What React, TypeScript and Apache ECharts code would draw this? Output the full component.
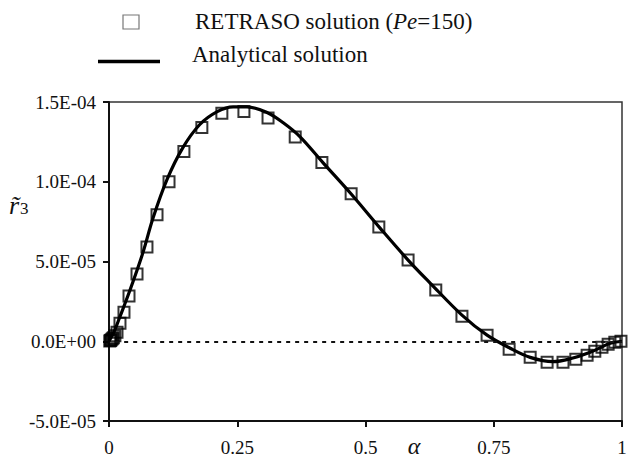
import React, { useEffect, useRef } from "react";
import * as echarts from "echarts";

// RETRASO numerical solution (markers)
const alphaMarkers = [
  0.0015, 0.003, 0.0045, 0.0065, 0.0085, 0.0115, 0.0156, 0.0214, 0.0292, 0.039,
  0.0546, 0.074, 0.0936, 0.117, 0.146, 0.181, 0.22, 0.263, 0.31, 0.363, 0.415,
  0.472, 0.526, 0.583, 0.637, 0.688, 0.737, 0.78, 0.821, 0.854, 0.885, 0.91,
  0.932, 0.947, 0.961, 0.973, 0.986, 0.998,
];
const r3Markers = [
  0.2e-6, 0.5e-6, 1.0e-6, 1.5e-6, 2.2e-6, 3.5e-6, 5.7e-6, 1.13e-5, 1.82e-5,
  2.83e-5, 4.21e-5, 5.91e-5, 7.93e-5, 1.0e-4, 1.19e-4, 1.34e-4, 1.43e-4, 1.44e-4,
  1.4e-4, 1.28e-4, 1.12e-4, 9.25e-5, 7.17e-5, 5.09e-5, 3.21e-5, 1.57e-5, 3.8e-6,
  -5.0e-6, -1.01e-5, -1.32e-5, -1.32e-5, -1.13e-5, -8.8e-6, -6.3e-6, -3.8e-6,
  -1.9e-6, -0.6e-6, 0,
];

// Analytical solution (curve)
const alphaCurve = [
  0, 0.01, 0.021, 0.041, 0.066, 0.086, 0.113, 0.144, 0.177, 0.211, 0.242, 0.269,
  0.308, 0.339, 0.372, 0.417, 0.47, 0.528, 0.583, 0.626, 0.688, 0.737, 0.782,
  0.821, 0.865, 0.899, 0.938, 0.977, 1.0,
];
const r3Curve = [
  0, 6e-6, 1.51e-5, 3.21e-5, 5.54e-5, 7.74e-5, 1.013e-4, 1.214e-4, 1.359e-4,
  1.44e-4, 1.47e-4, 1.47e-4, 1.434e-4, 1.371e-4, 1.283e-4, 1.12e-4, 9.31e-5,
  7.11e-5, 5.09e-5, 3.65e-5, 1.64e-5, 3.8e-6, -4.4e-6, -1.01e-5, -1.28e-5,
  -1.1e-5, -6.9e-6, -1.3e-6, 0,
];

const xTicks = [0, 0.25, 0.5, 0.75, 1];
const yMin = -5e-5;
const yMax = 1.5e-4;
const yStep = 5e-5;

const seriesNames = ["RETRASO solution (Pe=150)", "Analytical solution"];

const SERIF = "'Liberation Serif', 'Times New Roman', serif";

function fmtExp(v: number): string {
  if (Math.abs(v) < 1e-12) return "0.0E+00";
  let e = Math.floor(Math.log10(Math.abs(v)) + 1e-9);
  let s = (v / Math.pow(10, e)).toFixed(1);
  if (Math.abs(parseFloat(s)) >= 10) {
    e += 1;
    s = (v / Math.pow(10, e)).toFixed(1);
  }
  const sign = e < 0 ? "-" : "+";
  return `${s}E${sign}${String(Math.abs(e)).padStart(2, "0")}`;
}

export default function App() {
  const ref = useRef<HTMLDivElement>(null);

  useEffect(() => {
    if (!ref.current) return;
    const chart = echarts.init(ref.current, undefined, { renderer: "svg" });

    const markerData = alphaMarkers.map((a, i) => [a, r3Markers[i]]);
    const curveData = alphaCurve.map((a, i) => [a, r3Curve[i]]);

    chart.setOption({
      animation: false,
      backgroundColor: "#ffffff",
      grid: {
        left: 109,
        right: 7,
        top: 102,
        bottom: 38,
        containLabel: false,
        outerBoundsMode: "none",
        show: true,
        borderColor: "#333",
        borderWidth: 1.5,
      },
      xAxis: {
        type: "value",
        min: xTicks[0],
        max: xTicks[xTicks.length - 1],
        interval: xTicks[1] - xTicks[0],
        axisLine: { show: true, onZero: false, lineStyle: { color: "#111", width: 2 } },
        axisTick: { show: true, inside: false, length: 6, lineStyle: { color: "#111", width: 2 } },
        splitLine: { show: false },
        axisLabel: {
          color: "#111",
          fontFamily: SERIF,
          fontSize: 19,
          margin: 17,
        },
      },
      yAxis: {
        type: "value",
        min: yMin,
        max: yMax,
        interval: yStep,
        axisLine: { show: true, onZero: false, lineStyle: { color: "#111", width: 2 } },
        axisTick: { show: true, inside: false, length: 6, lineStyle: { color: "#111", width: 2 } },
        splitLine: { show: false },
        axisLabel: {
          color: "#111",
          fontFamily: SERIF,
          fontSize: 19,
          margin: 13,
          formatter: (v: number) => fmtExp(v),
        },
      },
      series: [
        {
          name: seriesNames[1],
          type: "line",
          data: curveData,
          smooth: 0.35,
          showSymbol: false,
          symbol: "none",
          lineStyle: { color: "#000", width: 3.2 },
          z: 2,
          markLine: {
            silent: true,
            symbol: ["none", "none"],
            label: { show: false },
            lineStyle: { color: "#111", type: [4, 5], width: 2 },
            data: [[{ coord: [0.012, 0] }, { coord: [1, 0] }]],
          },
        },
        {
          name: seriesNames[0],
          type: "scatter",
          data: markerData,
          symbol: "rect",
          symbolSize: 11,
          itemStyle: {
            color: "rgba(0,0,0,0)",
            borderColor: "#000",
            borderWidth: 2,
          },
          z: 3,
        },
      ],
      graphic: [
        {
          type: "rect",
          shape: { x: 123, y: 15, width: 16, height: 14 },
          style: { fill: "none", stroke: "#777", lineWidth: 1.2 },
        },
        {
          type: "text",
          x: 195,
          y: 21,
          style: {
            text: "{n|RETRASO solution (}{i|Pe}{n|=150)}",
            verticalAlign: "middle",
            align: "left",
            fill: "#111",
            rich: {
              n: { fontFamily: SERIF, fontSize: 23, fill: "#111" },
              i: { fontFamily: SERIF, fontSize: 23, fontStyle: "italic", fill: "#111" },
            },
          },
        },
        {
          type: "line",
          shape: { x1: 98, y1: 61.5, x2: 160, y2: 61.5 },
          style: { stroke: "#000", lineWidth: 3.5 },
        },
        {
          type: "text",
          x: 192,
          y: 54,
          style: {
            text: "Analytical solution",
            verticalAlign: "middle",
            align: "left",
            fill: "#111",
            font: `23px ${SERIF}`,
          },
        },
        {
          type: "text",
          x: 9,
          y: 205,
          style: {
            text: "{r|r\u0303}{s|3}",
            align: "left",
            verticalAlign: "middle",
            fill: "#111",
            rich: {
              r: {
                fontFamily: SERIF,
                fontSize: 26,
                fontStyle: "italic",
                fill: "#111",
              },
              s: {
                fontFamily: SERIF,
                fontSize: 17,
                padding: [7, 0, 0, 1],
                fill: "#111",
              },
            },
          },
        },
        {
          type: "text",
          x: 414,
          y: 446,
          style: {
            text: "α",
            align: "center",
            verticalAlign: "middle",
            fill: "#111",
            font: `italic 24px ${SERIF}`,
          },
        },
      ],
    });

    return () => {
      chart.dispose();
    };
  }, []);

  return (
    <div
      ref={ref}
      style={{ position: "fixed", left: 0, top: 0, width: 629, height: 459, background: "#fff" }}
    />
  );
}
